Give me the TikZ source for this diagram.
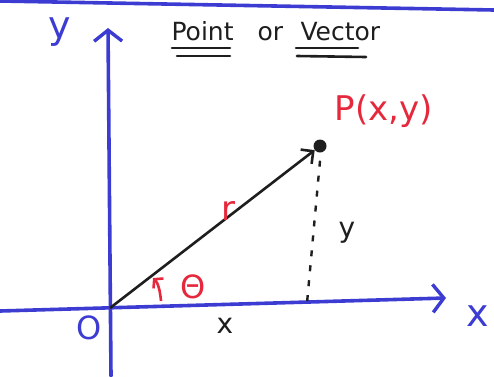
\documentclass[tikz,border=0pt]{standalone}
\usepackage{fontspec}
\setmainfont{DejaVu Sans}
\usetikzlibrary{arrows.meta}
\definecolor{penblue}{RGB}{60,60,210}
\definecolor{penred}{RGB}{230,40,60}
\definecolor{penblack}{RGB}{30,30,30}
\begin{document}
\begin{tikzpicture}[x=1pt,y=-1pt,
  axis/.style={draw=penblue,line width=3.6pt,line cap=round},
  axtip/.style={-{Straight Barb[length=11pt,width=28pt,line width=3.4pt]}},
  vec/.style={draw=penblack,line width=2.6pt,-{Straight Barb[length=9pt,width=18pt,line width=2.6pt]}},
  bluelbl/.style={text=penblue,font=\fontsize{38}{40}\selectfont},
  redlbl/.style={text=penred,font=\fontsize{34}{36}\selectfont},
  blacklbl/.style={text=penblack,font=\fontsize{28}{30}\selectfont},
  titlelbl/.style={text=penblack,font=\fontsize{25}{27}\selectfont},
  uline/.style={draw=penblack,line width=2.6pt,line cap=round}]
\useasboundingbox (0,0) rectangle (494,376);
% top border line
\coordinate (tl) at (0,1);
\coordinate (tr) at (494,10);
\draw[axis] (tl) -- (tr);
% axes
\coordinate (O) at (110,308);
\coordinate (ybot) at (111,376);
\coordinate (ytop) at (108,28);
\coordinate (xleft) at (0,311);
\coordinate (xright) at (446,298);
\draw[axis,axtip] (ybot) -- (ytop);
\draw[axis,axtip] (xleft) -- (xright);
% labels on axes
\node[bluelbl] (ylab) at (60,32) {y};
\node[bluelbl] (xlab) at (478,316) {x};
\node[bluelbl,font=\fontsize{32}{34}\selectfont] (olab) at (89,328) {O};
% title
\node[titlelbl,anchor=base west] (t1) at (168,40) {Point};
\node[titlelbl,anchor=base west] (t2) at (254,40) {or};
\node[titlelbl,anchor=base west] (t3) at (297,40) {Vector};
\draw[uline] (172,48) -- (230,48);
\draw[uline] (177,56) -- (230,56);
\draw[uline] (296,48) -- (358,48);
\draw[uline] (297,56) -- (366,57);
% point
\node[circle,fill=penblack,inner sep=0pt,minimum size=13pt] (P) at (320,146) {};
\node[redlbl] (Plab) at (384,111) {P(x,y)};
\draw[vec] (O) -- (P);
% dotted projection
\coordinate (foot) at (307,303);
\draw[penblack,line width=2.4pt,dash pattern=on 6pt off 9pt] (P.south) ++(0,8) -- (foot);
% labels
\node[redlbl] (rlab) at (228,211) {r};
\node[blacklbl] (ylab2) at (347,233) {y};
\node[blacklbl] (xlab2) at (225,326) {x};
% angle
\coordinate (a0) at (161,301);
\coordinate (a1) at (153,278);
\draw[penred,line width=2.6pt,-{Straight Barb[length=6pt,width=14pt,line width=2.6pt]}] (a0) .. controls (160,290) and (158,283) .. (a1);
\node[redlbl,font=\fontsize{32}{34}\selectfont] (th) at (193,287) {Θ};
\end{tikzpicture}
\end{document}
